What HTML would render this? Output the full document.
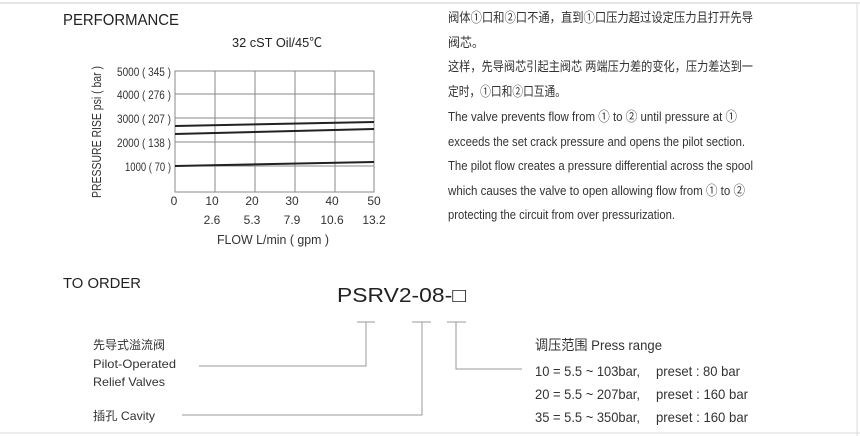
<!DOCTYPE html>
<html><head><meta charset="utf-8"><style>
html,body{margin:0;padding:0;background:#fff;}
svg{display:block;font-family:"Liberation Sans","Noto Sans CJK SC",sans-serif;}
</style></head><body>
<svg width="860" height="436" viewBox="0 0 860 436" xmlns="http://www.w3.org/2000/svg">
<rect width="860" height="436" fill="#fff"/>
<line x1="0" y1="3" x2="860" y2="3" stroke="#ccc" stroke-width="1"/>
<line x1="857" y1="3" x2="857" y2="436" stroke="#ddd" stroke-width="1"/>
<line x1="0" y1="433" x2="860" y2="433" stroke="#ddd" stroke-width="1"/>

<text x="63" y="25" font-size="16" fill="#222" textLength="116" lengthAdjust="spacingAndGlyphs">PERFORMANCE</text>
<text x="232" y="47" font-size="13" fill="#222" textLength="90" lengthAdjust="spacingAndGlyphs">32 cST Oil/45℃</text>

<g stroke="#888" stroke-width="1" fill="none">
<rect x="175" y="71" width="199" height="121"/>
<line x1="215" y1="71" x2="215" y2="192"/>
<line x1="255" y1="71" x2="255" y2="192"/>
<line x1="295" y1="71" x2="295" y2="192"/>
<line x1="335" y1="71" x2="335" y2="192"/>
<line x1="175" y1="94" x2="374" y2="94"/>
<line x1="175" y1="118" x2="374" y2="118"/>
<line x1="175" y1="142" x2="374" y2="142"/>
<line x1="175" y1="166" x2="374" y2="166"/>
</g>
<g stroke="#222" stroke-width="2">
<line x1="175" y1="126" x2="374" y2="122"/>
<line x1="175" y1="134" x2="374" y2="129"/>
<line x1="175" y1="166" x2="374" y2="162"/>
</g>
<g font-size="12" fill="#333" text-anchor="end">
<text x="171" y="76" textLength="54" lengthAdjust="spacingAndGlyphs">5000 ( 345 )</text>
<text x="171" y="99" textLength="54" lengthAdjust="spacingAndGlyphs">4000 ( 276 )</text>
<text x="171" y="123" textLength="54" lengthAdjust="spacingAndGlyphs">3000 ( 207 )</text>
<text x="171" y="147" textLength="54" lengthAdjust="spacingAndGlyphs">2000 ( 138 )</text>
<text x="171" y="171" textLength="46" lengthAdjust="spacingAndGlyphs">1000 ( 70 )</text>
</g>
<text transform="translate(101,198) rotate(-90)" font-size="13" fill="#333" textLength="132" lengthAdjust="spacingAndGlyphs">PRESSURE RISE psi ( bar )</text>
<g font-size="12" fill="#333" text-anchor="middle">
<text x="174" y="205">0</text>
<text x="212" y="205">10</text>
<text x="252" y="205">20</text>
<text x="292" y="205">30</text>
<text x="332" y="205">40</text>
<text x="374" y="205">50</text>
<text x="212" y="224">2.6</text>
<text x="252" y="224">5.3</text>
<text x="292" y="224">7.9</text>
<text x="332" y="224">10.6</text>
<text x="374" y="224">13.2</text>
<text x="273" y="244" font-size="13" textLength="112" lengthAdjust="spacingAndGlyphs">FLOW L/min ( gpm )</text>
</g>

<g font-size="13" fill="#333">
<text x="448" y="22" textLength="305" lengthAdjust="spacingAndGlyphs">阀体①口和②口不通，直到①口压力超过设定压力且打开先导</text>
<text x="448" y="47" textLength="36" lengthAdjust="spacingAndGlyphs">阀芯。</text>
<text x="448" y="71" textLength="305" lengthAdjust="spacingAndGlyphs">这样，先导阀芯引起主阀芯 两端压力差的变化，压力差达到一</text>
<text x="448" y="96" textLength="118" lengthAdjust="spacingAndGlyphs">定时，①口和②口互通。</text>
<text x="448" y="121" textLength="289" lengthAdjust="spacingAndGlyphs">The valve prevents flow from ① to ② until pressure at ①</text>
<text x="448" y="146" textLength="297" lengthAdjust="spacingAndGlyphs">exceeds the set crack pressure and opens the pilot section.</text>
<text x="448" y="170" textLength="305" lengthAdjust="spacingAndGlyphs">The pilot flow creates a pressure differential across the spool</text>
<text x="448" y="195" textLength="297" lengthAdjust="spacingAndGlyphs">which causes the valve to open allowing flow from ① to ②</text>
<text x="448" y="219" textLength="227" lengthAdjust="spacingAndGlyphs">protecting the circuit from over pressurization.</text>
</g>

<text x="63" y="288" font-size="15" fill="#222" textLength="78" lengthAdjust="spacingAndGlyphs">TO ORDER</text>
<text x="337" y="302" font-size="20" fill="#222" textLength="129" lengthAdjust="spacingAndGlyphs">PSRV2-08-□</text>

<g stroke="#999" stroke-width="1" fill="none">
<line x1="357" y1="322" x2="375" y2="322"/>
<polyline points="366,322 366,366 199,366"/>
<line x1="412" y1="322" x2="431" y2="322"/>
<polyline points="422,322 422,415 182,415"/>
<line x1="447" y1="322" x2="466" y2="322"/>
<polyline points="456,322 456,369 522,369"/>
</g>

<g font-size="12" fill="#333">
<text x="93" y="349">先导式溢流阀</text>
<text x="93" y="368" textLength="83" lengthAdjust="spacingAndGlyphs">Pilot-Operated</text>
<text x="93" y="386" textLength="72" lengthAdjust="spacingAndGlyphs">Relief Valves</text>
<text x="93" y="420" textLength="62" lengthAdjust="spacingAndGlyphs">插孔 Cavity</text>
</g>
<g font-size="14" fill="#333">
<text x="535" y="350" textLength="127" lengthAdjust="spacingAndGlyphs">调压范围 Press range</text>
<text x="535" y="376" textLength="105" lengthAdjust="spacingAndGlyphs">10 = 5.5 ~ 103bar,</text>
<text x="656" y="376" textLength="84" lengthAdjust="spacingAndGlyphs">preset : 80 bar</text>
<text x="535" y="399" textLength="105" lengthAdjust="spacingAndGlyphs">20 = 5.5 ~ 207bar,</text>
<text x="656" y="399" textLength="92" lengthAdjust="spacingAndGlyphs">preset : 160 bar</text>
<text x="535" y="422" textLength="105" lengthAdjust="spacingAndGlyphs">35 = 5.5 ~ 350bar,</text>
<text x="656" y="422" textLength="92" lengthAdjust="spacingAndGlyphs">preset : 160 bar</text>
</g>
</svg>
</body></html>
